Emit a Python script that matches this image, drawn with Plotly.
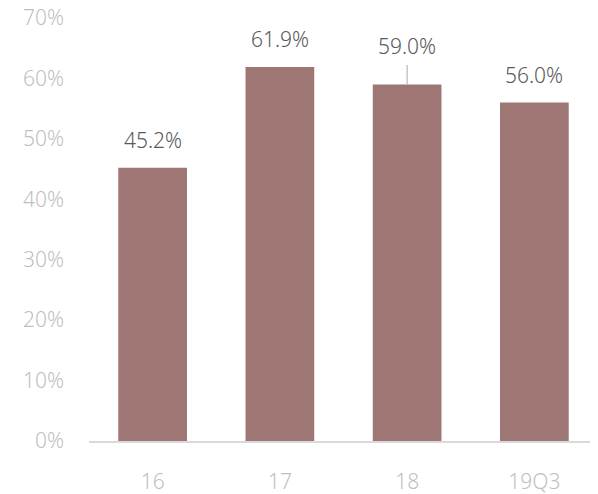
import plotly.graph_objects as go

categories = ["16", "17", "18", "19Q3"]
values = [45.2, 61.9, 59.0, 56.0]
labels = ["45.2%", "61.9%", "59.0%", "56.0%"]
y_ticks = [0, 10, 20, 30, 40, 50, 60, 70]
y_tick_text = ["0%", "10%", "20%", "30%", "40%", "50%", "60%", "70%"]

BAR = "#9E7775"
FONT = "Noto Sans"
FS = 21

fig = go.Figure(go.Bar(x=categories, y=values, marker=dict(color=BAR, line=dict(width=0)),
                       width=0.54, hoverinfo="skip"))

for i, (c, v, t) in enumerate(zip(categories, values, labels)):
    if c == "18":
        fig.add_annotation(x=i, y=v, text=t, showarrow=True, arrowhead=0, arrowwidth=1.2,
                           arrowcolor="#BFB5B5", ax=0, ay=-38, startstandoff=3, standoff=0,
                           font=dict(family=FONT, size=FS, color="#595959", weight=300))
    else:
        fig.add_annotation(x=i, y=v, text=t, showarrow=False, yshift=28,
                           font=dict(family=FONT, size=FS, color="#595959", weight=300))

# page body has an 8px default margin, so the figure is sized to fill the rest of the window
fig.update_layout(
    width=590, height=486,
    margin=dict(l=81, r=0, t=10, b=53),
    plot_bgcolor="white", paper_bgcolor="white",
    showlegend=False,
    font=dict(family=FONT, size=FS, color="#BFBFBF", weight=300),
    xaxis=dict(type="category", showline=True, linecolor="#D9D9D9", linewidth=1.5, showgrid=False,
               ticks="", tickangle=0, tickfont=dict(size=FS, color="#BFBFBF", weight=300),
               ticklabelstandoff=21, automargin=False, ticklabeloverflow="allow"),
    yaxis=dict(range=[0, 70], tickvals=y_ticks, ticktext=y_tick_text, showgrid=False,
               zeroline=False, showline=False, ticks="", automargin=False,
               ticklabeloverflow="allow",
               tickfont=dict(size=FS, color="#BFBFBF", weight=300), ticklabelstandoff=24),
)

fig.write_html("out.html")
